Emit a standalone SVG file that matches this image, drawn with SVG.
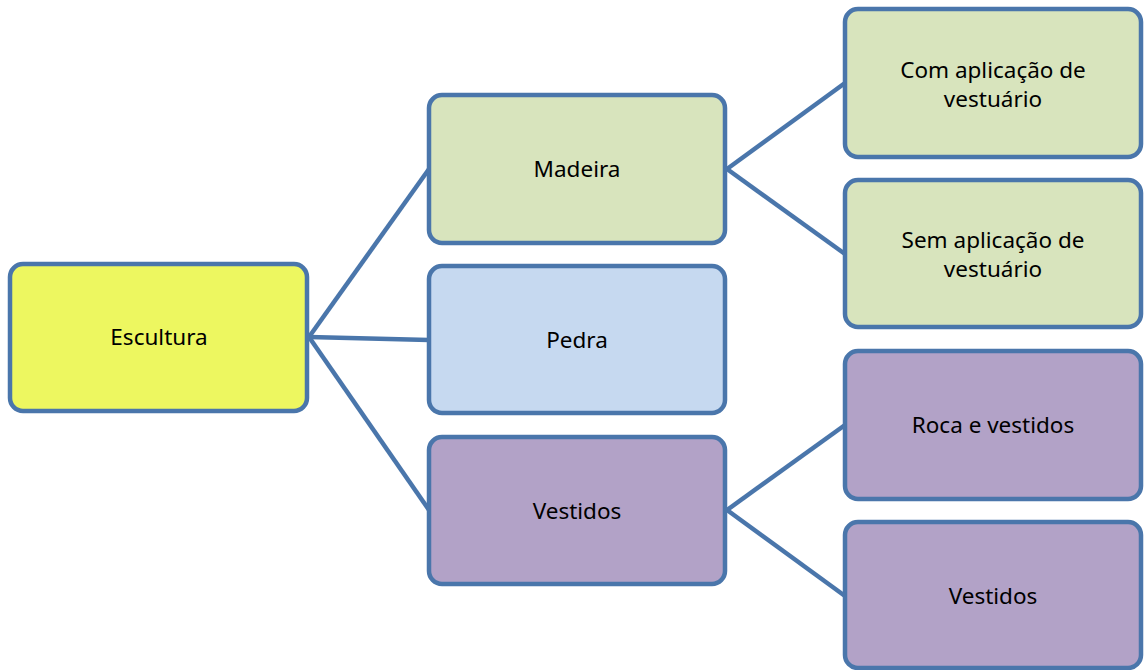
<svg xmlns="http://www.w3.org/2000/svg" width="1144" height="670" viewBox="0 0 1144 670">
  <style>
    .box { stroke: #4A76AB; stroke-width: 4.5; }
    .lv0 { fill: #EDF760; }
    .green { fill: #D8E4BD; }
    .blue { fill: #C6D9F0; }
    .purple { fill: #B2A2C7; }
    .lbl { font-family: "Noto Sans", "Liberation Sans", sans-serif; font-size: 22.5px; fill: #000; text-anchor: middle; }
    .conn { stroke: #4A76AB; stroke-width: 4.5; fill: none; }
  </style>
  <rect width="1144" height="670" fill="#FFFFFF"/>

  <!-- connectors -->
  <g id="connectors">
    <line class="conn" x1="309" y1="337" x2="429" y2="169"/>
    <line class="conn" x1="309" y1="337" x2="429" y2="340"/>
    <line class="conn" x1="309" y1="337" x2="429" y2="510"/>
    <line class="conn" x1="727" y1="169" x2="845" y2="83"/>
    <line class="conn" x1="727" y1="169" x2="845" y2="254"/>
    <line class="conn" x1="727" y1="510" x2="845" y2="425"/>
    <line class="conn" x1="727" y1="510" x2="845" y2="596"/>
  </g>

  <g id="escultura">
    <rect class="box lv0" x="10" y="264" width="297" height="147" rx="13"/>
    <text class="lbl" x="159" y="345">Escultura</text>
  </g>
  <g id="madeira">
    <rect class="box green" x="429" y="95" width="296" height="148" rx="13"/>
    <text class="lbl" x="577" y="177">Madeira</text>
  </g>
  <g id="pedra">
    <rect class="box blue" x="429" y="266" width="296" height="147" rx="13"/>
    <text class="lbl" x="577" y="348">Pedra</text>
  </g>
  <g id="vestidos">
    <rect class="box purple" x="429" y="437" width="296" height="147" rx="13"/>
    <text class="lbl" x="577" y="519">Vestidos</text>
  </g>
  <g id="com-aplicacao">
    <rect class="box green" x="845" y="9" width="296" height="148" rx="13"/>
    <text class="lbl" x="993" y="78">Com aplicação de</text>
    <text class="lbl" x="993" y="107">vestuário</text>
  </g>
  <g id="sem-aplicacao">
    <rect class="box green" x="845" y="180" width="296" height="147" rx="13"/>
    <text class="lbl" x="993" y="248">Sem aplicação de</text>
    <text class="lbl" x="993" y="277">vestuário</text>
  </g>
  <g id="roca-e-vestidos">
    <rect class="box purple" x="845" y="351" width="296" height="148" rx="13"/>
    <text class="lbl" x="993" y="433">Roca e vestidos</text>
  </g>
  <g id="vestidos-2">
    <rect class="box purple" x="845" y="522" width="296" height="146" rx="13"/>
    <text class="lbl" x="993" y="604">Vestidos</text>
  </g>
</svg>
